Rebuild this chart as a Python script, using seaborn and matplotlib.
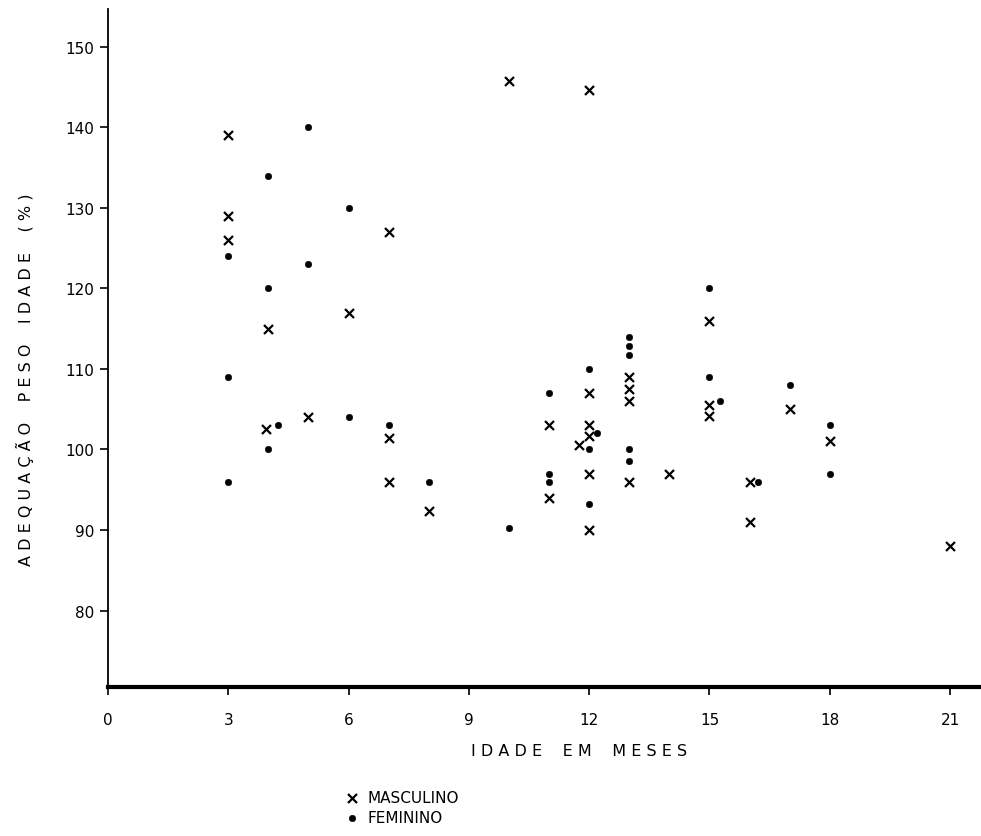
import pandas as pd
import matplotlib
matplotlib.use("Agg")
import matplotlib.pyplot as plt
import seaborn as sns

# Idade (meses) e adequação peso/idade (%)
male_age = [3, 3, 3, 4, 3.95, 5, 6, 7, 7, 7, 8, 10, 11, 11, 12, 12, 12, 12,
            11.75, 12, 12, 13, 13, 13, 13, 14, 15, 15, 15, 16, 16, 17, 18, 21]
male_val = [139, 129, 126, 115, 102.5, 104, 117, 127, 101.4, 96, 92.3, 145.8,
            103, 94, 144.7, 107, 103, 101.7, 100.6, 97, 90, 109, 107.5, 106,
            96, 97, 116, 105.5, 104.2, 96, 91, 105, 101, 88]

female_age = [3, 3, 3, 4, 4, 4, 4.25, 5, 5, 6, 6, 7, 8, 10, 11, 11, 11, 12,
              12.2, 12, 12, 13, 13, 13, 13, 13, 15, 15, 15.25, 16.2, 17, 18, 18]
female_val = [124, 109, 96, 134, 120, 100, 103, 140, 123, 130, 104, 103.1, 96,
              90.2, 107, 97, 96, 110, 102, 100, 93.2, 114, 112.8, 111.7, 100,
              98.6, 120, 109, 106, 96, 108, 103, 97]

x_ticks = [0, 3, 6, 9, 12, 15, 18, 21]
y_ticks = [80, 90, 100, 110, 120, 130, 140, 150]

df = pd.concat([
    pd.DataFrame({'idade': male_age, 'adeq': male_val, 'sexo': 'MASCULINO'}),
    pd.DataFrame({'idade': female_age, 'adeq': female_val, 'sexo': 'FEMININO'}),
], ignore_index=True)

sns.set_style('ticks')
plt.rcParams['font.family'] = ['DejaVu Sans']
plt.rcParams['text.color'] = 'black'
plt.rcParams['axes.labelcolor'] = 'black'
plt.rcParams['xtick.color'] = 'black'
plt.rcParams['ytick.color'] = 'black'
plt.rcParams['axes.edgecolor'] = 'black'

fig = plt.figure(figsize=(9.81, 8.37), dpi=100)
ax = fig.add_axes([0.110, 0.178, 0.890, 0.810])

sns.scatterplot(data=df[df.sexo == 'MASCULINO'], x='idade', y='adeq',
                marker='x', color='black', s=42, linewidth=1.6, ax=ax,
                label='MASCULINO')
sns.scatterplot(data=df[df.sexo == 'FEMININO'], x='idade', y='adeq',
                marker='o', color='black', s=22, edgecolor='black', ax=ax,
                label='FEMININO')

ax.set_xlim(0, 21.77)
ax.set_ylim(70.5, 154.7)
ax.set_xticks(x_ticks)
ax.set_yticks(y_ticks)
ax.tick_params(axis='both', direction='out', labelsize=11, width=1.2,
               length=6, color='black')
ax.tick_params(axis='x', pad=12)
ax.tick_params(axis='y', pad=4)

sns.despine(ax=ax)
ax.spines['left'].set_linewidth(1.3)
ax.spines['bottom'].set_linewidth(3)

ax.set_xlabel('I D A D E    E M    M E S E S', fontsize=11.5)
ax.xaxis.set_label_coords(0.54, -0.083)
ax.set_ylabel('A D E Q U A Ç Ã O    P E S O    I D A D E    ( % )', fontsize=11.5)
ax.yaxis.set_label_coords(-0.085, 0.454)

leg = ax.legend(loc='upper left', bbox_to_anchor=(0.345, 0.064),
                bbox_transform=fig.transFigure, frameon=False, fontsize=11,
                handletextpad=0.6, labelspacing=0.3, handlelength=0.8,
                borderpad=0)

fig.savefig('out.png', dpi=100)
